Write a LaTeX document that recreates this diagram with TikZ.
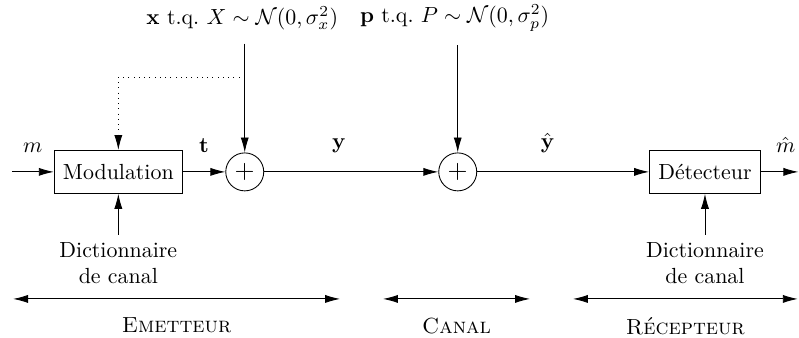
\documentclass[tikz,border=0pt]{standalone}
\usepackage{amsmath,amssymb}
\usepackage{tikz}
\usetikzlibrary{arrows.meta,positioning}

\begin{document}
\begin{tikzpicture}[font=\normalsize,
  blk/.style={draw, minimum height=6.9mm, inner xsep=4pt},
  sum/.style={draw, circle, minimum size=6.1mm, inner sep=0pt, font=\large},
  dict/.style={align=center},
  arr/.style={-{Latex[length=2.4mm, width=1.3mm]}},
  darr/.style={{Latex[length=2.4mm, width=1.3mm]}-{Latex[length=2.4mm, width=1.3mm]}}]

\useasboundingbox (0,2.76) rectangle (12.83,-2.66);

% chaîne principale
\node[blk] (mod) at (1.90, 0)  {Modulation};
\node[sum] (sx)  at (3.93, 0)  {$+$};
\node[sum] (sp)  at (7.35, 0)  {$+$};
\node[blk] (det) at (11.32, 0) {Détecteur};
\coordinate (in)  at (0.19, 0);
\coordinate (out) at (12.82, 0);

\draw[arr] (in) -- (mod) node[midway, above=1.8mm]{$m$};
\draw[arr] (mod) -- (sx) node[midway, above=1.8mm]{$\mathbf{t}$};
\draw[arr] (sx) -- (sp) node[pos=0.43, above=1.8mm]{$\mathbf{y}$};
\draw[arr] (sp) -- (det) node[pos=0.41, above=1.8mm]{$\hat{\mathbf{y}}$};
\draw[arr] (det) -- (out) node[pos=0.66, above=1.8mm]{$\hat{m}$};

% bruits additifs (haut)
\node[inner xsep=1pt] (nx) at (3.89, 2.47) {$\mathbf{x}$ t.q.\ $X\sim\mathcal{N}(0,\sigma_x^2)$};
\node[inner xsep=1pt] (np) at (7.30, 2.47) {$\mathbf{p}$ t.q.\ $P\sim\mathcal{N}(0,\sigma_p^2)$};
\draw[arr] (sx |- nx.south) ++(0,-0.1) -- (sx);
\draw[arr] (sp |- np.south) ++(0,-0.1) -- (sp);
\coordinate (bx) at (3.93, 1.52);
\draw[arr, dotted] (bx) -| (mod.north);

% dictionnaires (bas)
\node[dict, below=6.6mm of mod] (dm) {Dictionnaire\\de canal};
\node[dict, below=6.6mm of det] (dd) {Dictionnaire\\de canal};
\draw[arr] (dm) -- (mod);
\draw[arr] (dd) -- (det);

% parties de la chaîne
\coordinate (e1) at (0.21, -2.04);  \coordinate (e2) at (5.46, -2.04);
\coordinate (c1) at (6.15, -2.04);  \coordinate (c2) at (8.51, -2.04);
\coordinate (r1) at (9.20, -2.04);  \coordinate (r2) at (12.81, -2.04);
\draw[darr] (e1) -- (e2) node[midway, below=1.8mm]{\textsc{Emetteur}};
\draw[darr] (c1) -- (c2) node[midway, below=1.8mm]{\textsc{Canal}};
\draw[darr] (r1) -- (r2) node[midway, below=1.8mm]{\textsc{Récepteur}};
\end{tikzpicture}
\end{document}
